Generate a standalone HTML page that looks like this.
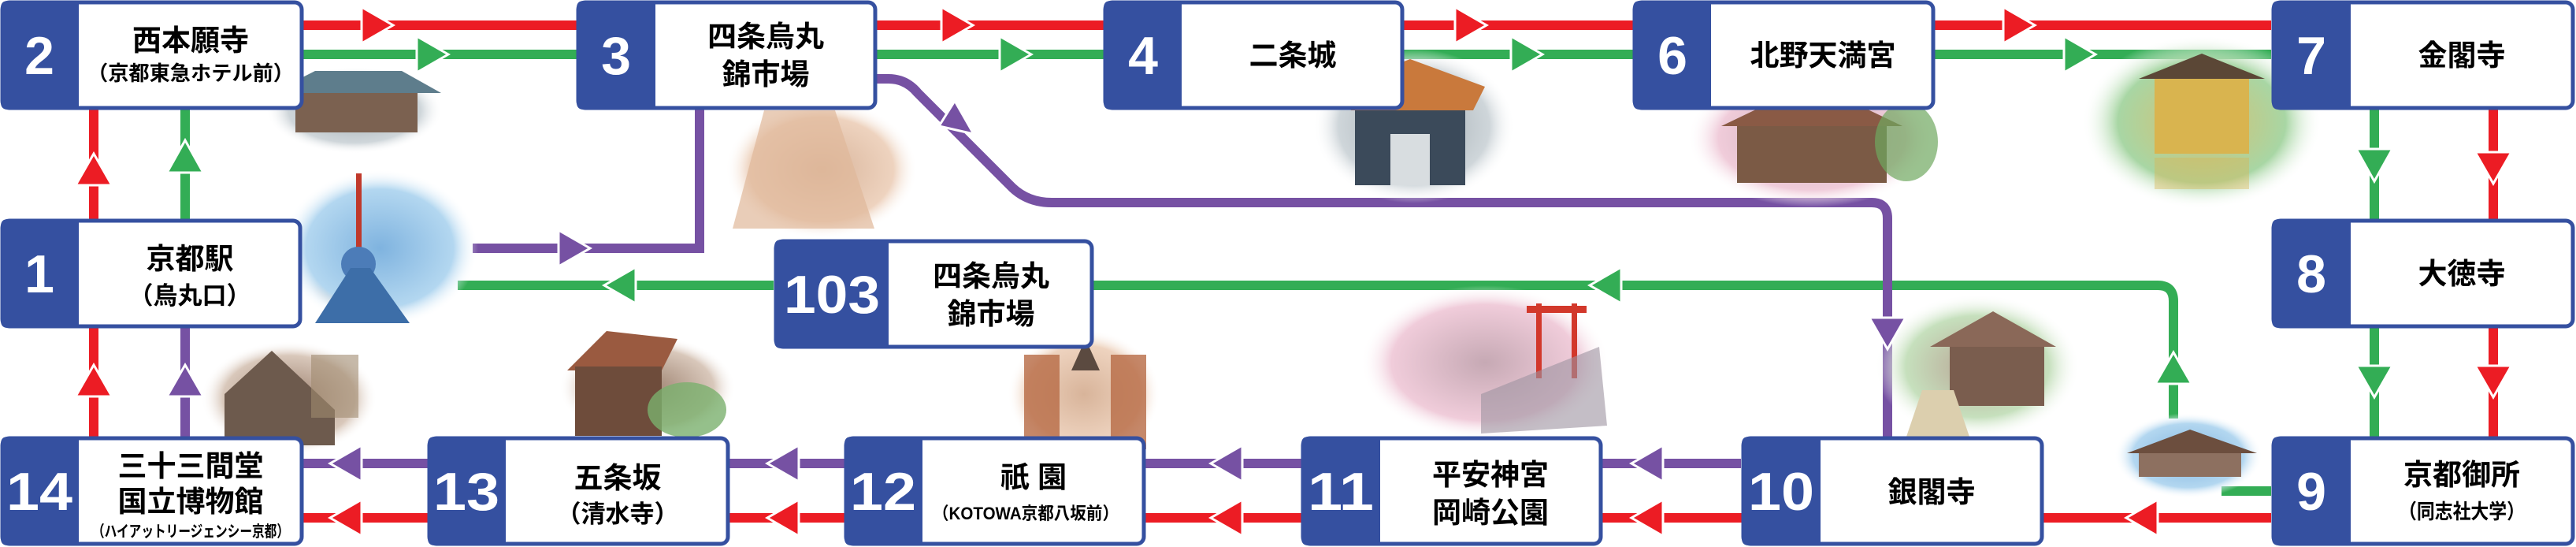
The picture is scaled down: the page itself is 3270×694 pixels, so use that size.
<!DOCTYPE html>
<html><head><meta charset="utf-8">
<style>
html,body{margin:0;padding:0;background:#fff;}
svg{display:block;}
text{font-family:"Liberation Sans","Noto Sans CJK JP",sans-serif;font-weight:bold;}
.num{fill:#fff;font-size:68px;text-anchor:middle;}
.t{fill:#000;font-size:37px;text-anchor:middle;}
.s{fill:#000;font-size:26px;text-anchor:middle;}
</style></head><body>
<svg width="3270" height="694" viewBox="0 0 3270 694" xmlns="http://www.w3.org/2000/svg">
<defs>
<radialGradient id="gBlue" cx="50%" cy="50%" r="50%"><stop offset="0" stop-color="#7fb3df"/><stop offset="0.75" stop-color="#b3d7f0"/><stop offset="1" stop-color="#fff" stop-opacity="0"/></radialGradient>
<radialGradient id="gWarm" cx="50%" cy="50%" r="50%"><stop offset="0" stop-color="#d8b49a"/><stop offset="0.75" stop-color="#eed3bf"/><stop offset="1" stop-color="#fff" stop-opacity="0"/></radialGradient>
<radialGradient id="gBrown" cx="50%" cy="50%" r="50%"><stop offset="0" stop-color="#9d8270"/><stop offset="0.75" stop-color="#d9c8bb"/><stop offset="1" stop-color="#fff" stop-opacity="0"/></radialGradient>
<radialGradient id="gPink" cx="50%" cy="50%" r="50%"><stop offset="0" stop-color="#c6a9b4"/><stop offset="0.75" stop-color="#f0ccda"/><stop offset="1" stop-color="#fff" stop-opacity="0"/></radialGradient>
<radialGradient id="gGold" cx="50%" cy="50%" r="50%"><stop offset="0" stop-color="#d7c070"/><stop offset="0.7" stop-color="#a8d6a4"/><stop offset="1" stop-color="#fff" stop-opacity="0"/></radialGradient>
<radialGradient id="gGreen" cx="50%" cy="50%" r="50%"><stop offset="0" stop-color="#b9a595"/><stop offset="0.7" stop-color="#c6e0bd"/><stop offset="1" stop-color="#fff" stop-opacity="0"/></radialGradient>
<radialGradient id="gGray" cx="50%" cy="50%" r="50%"><stop offset="0" stop-color="#a0aab0"/><stop offset="0.75" stop-color="#cfd6da"/><stop offset="1" stop-color="#fff" stop-opacity="0"/></radialGradient>
</defs>

<!-- LINES -->
<g fill="none" stroke-width="12">
<line x1="384" y1="32" x2="2883" y2="32" stroke="#ec1c24"/>
<line x1="384" y1="69" x2="2883" y2="69" stroke="#33ad55"/>
<line x1="119" y1="139" x2="119" y2="554" stroke="#ec1c24"/>
<line x1="235" y1="139" x2="235" y2="278" stroke="#33ad55"/>
<line x1="235" y1="416" x2="235" y2="554" stroke="#7651a3"/>
<path d="M600,315 H888 V139" stroke="#7651a3"/>
<path d="M581,362 H982 M1388,362 H2739 Q2759,362 2759,382 V531" stroke="#33ad55"/>
<line x1="2820" y1="623" x2="2883" y2="623" stroke="#33ad55"/>
<path d="M1113,100 H1128 Q1150,100 1165,118 L1285,238 Q1305,257 1335,257 H2376 Q2396,257 2396,277 V554" stroke="#7651a3"/>
<line x1="3014" y1="139" x2="3014" y2="554" stroke="#33ad55"/>
<line x1="3165" y1="139" x2="3165" y2="554" stroke="#ec1c24"/>
<line x1="384" y1="588" x2="2210" y2="588" stroke="#7651a3"/>
<line x1="384" y1="657" x2="2883" y2="657" stroke="#ec1c24"/>
</g>

<!-- ILLUSTRATIONS (approximate) -->
<ellipse cx="450" cy="140" rx="112" ry="55" fill="url(#gGray)"/>
<polygon points="345,118 400,90 510,90 560,118" fill="#5e7d8c"/>
<rect x="375" y="118" width="155" height="50" fill="#7b6150"/>
<ellipse cx="470" cy="360" rx="80" ry="40" fill="url(#gWarm)"/>
<ellipse cx="482" cy="315" rx="125" ry="100" fill="url(#gBlue)"/>
<rect x="452" y="220" width="7" height="110" fill="#c0392b"/>
<ellipse cx="455" cy="335" rx="22" ry="22" fill="#4c7cb8"/>
<polygon points="400,410 445,340 470,340 520,410" fill="#3d6ea8"/>
<ellipse cx="1043" cy="215" rx="122" ry="88" fill="url(#gWarm)"/>
<polygon points="970,140 1060,140 1110,290 930,290" fill="#e0b89a" opacity="0.7"/>
<ellipse cx="367" cy="505" rx="112" ry="72" fill="url(#gBrown)"/>
<polygon points="285,500 345,445 425,520 425,565 285,565" fill="#6d5a4d"/>
<rect x="395" y="450" width="60" height="80" fill="#a08a70" opacity="0.6"/>
<ellipse cx="822" cy="492" rx="112" ry="66" fill="url(#gBrown)"/>
<polygon points="720,470 770,420 860,430 840,470" fill="#9a5a40"/>
<rect x="730" y="465" width="110" height="88" fill="#6e4c3b"/>
<ellipse cx="872" cy="520" rx="50" ry="35" fill="#7ab06e" opacity="0.8"/>
<ellipse cx="1795" cy="160" rx="128" ry="98" fill="url(#gGray)"/>
<polygon points="1700,110 1790,75 1885,110 1870,140 1715,140" fill="#c9793c"/>
<rect x="1720" y="140" width="140" height="95" fill="#3b4a5a"/>
<rect x="1765" y="170" width="50" height="65" fill="#d8dde0"/>
<ellipse cx="1376" cy="500" rx="97" ry="82" fill="url(#gWarm)"/>
<rect x="1300" y="450" width="45" height="120" fill="#b66a45" opacity="0.8"/>
<rect x="1410" y="450" width="45" height="120" fill="#b66a45" opacity="0.8"/>
<polygon points="1378,430 1360,470 1396,470" fill="#5b4a40"/>
<ellipse cx="1885" cy="460" rx="158" ry="98" fill="url(#gPink)"/>
<rect x="1950" y="385" width="7" height="95" fill="#d2382b"/><rect x="1995" y="385" width="7" height="95" fill="#d2382b"/><rect x="1938" y="388" width="76" height="9" fill="#d2382b"/>
<polygon points="1880,500 2030,440 2040,540 1880,550" fill="#9d92a0" opacity="0.6"/>
<ellipse cx="2300" cy="175" rx="158" ry="88" fill="url(#gPink)"/>
<polygon points="2185,160 2300,105 2415,160" fill="#8a5a45"/>
<rect x="2205" y="160" width="190" height="72" fill="#7b5a45"/>
<ellipse cx="2420" cy="180" rx="40" ry="50" fill="#6fa860" opacity="0.7"/>
<ellipse cx="2795" cy="155" rx="152" ry="110" fill="url(#gGold)"/>
<rect x="2735" y="95" width="120" height="100" fill="#d9b44f"/>
<polygon points="2715,100 2795,68 2875,100" fill="#5b4736"/>
<rect x="2735" y="200" width="120" height="40" fill="#d9b44f" opacity="0.4"/>
<ellipse cx="2510" cy="465" rx="130" ry="92" fill="url(#gGreen)"/>
<polygon points="2450,440 2530,395 2610,440" fill="#8a6858"/>
<rect x="2475" y="440" width="120" height="75" fill="#7a5d4e"/>
<polygon points="2420,554 2440,495 2480,495 2500,554" fill="#dccfae"/>
<ellipse cx="2778" cy="578" rx="94" ry="54" fill="url(#gBlue)"/>
<polygon points="2700,575 2780,545 2865,575" fill="#6c4e3e"/>
<rect x="2715" y="575" width="130" height="30" fill="#8d7060"/>

<!-- ARROWS -->
<g stroke="#fff" stroke-width="3">
<g fill="#ec1c24">
<polygon points="459,9 499,32 459,55"/><polygon points="1195,9 1235,32 1195,55"/><polygon points="1847,9 1887,32 1847,55"/><polygon points="2543,9 2583,32 2543,55"/>
</g>
<g fill="#33ad55">
<polygon points="529,46 569,69 529,92"/><polygon points="1269,46 1309,69 1269,92"/><polygon points="1918,46 1958,69 1918,92"/><polygon points="2620,46 2660,69 2620,92"/>
</g>
<polygon fill="#7651a3" points="709,292 749,315 709,338"/>
<polygon fill="#ec1c24" points="96,235 119,195 142,235"/>
<polygon fill="#ec1c24" points="96,503 119,463 142,503"/>
<polygon fill="#33ad55" points="212,219 235,178 258,219"/>
<polygon fill="#7651a3" points="212,503 235,463 258,503"/>
<polygon fill="#33ad55" points="2736,487 2759,447 2782,487"/>
<polygon fill="#33ad55" points="2991,189 3037,189 3014,230"/>
<polygon fill="#ec1c24" points="3142,193 3188,193 3165,233"/>
<polygon fill="#33ad55" points="2991,464 3037,464 3014,504"/>
<polygon fill="#ec1c24" points="3142,464 3188,464 3165,504"/>
<polygon fill="#7651a3" points="2373,403 2419,403 2396,443"/>
<polygon fill="#7651a3" points="1212,128 1236,170 1192,160"/>
<polygon fill="#33ad55" points="807,339 767,362 807,385"/>
<polygon fill="#33ad55" points="2058,339 2018,362 2058,385"/>
<g fill="#7651a3">
<polygon points="459,565 419,588 459,611"/><polygon points="1014,565 974,588 1014,611"/><polygon points="1577,565 1537,588 1577,611"/><polygon points="2111,565 2071,588 2111,611"/>
</g>
<g fill="#ec1c24">
<polygon points="459,634 419,657 459,680"/><polygon points="1014,634 974,657 1014,680"/><polygon points="1577,634 1537,657 1577,680"/><polygon points="2111,634 2071,657 2111,680"/><polygon points="2739,634 2699,657 2739,680"/>
</g>
</g>

<!-- BOXES -->
<g stroke="#3550a0" stroke-width="5" fill="#fff">
<rect x="3" y="3" width="380" height="134" rx="9"/>
<rect x="734" y="3" width="377" height="134" rx="9"/>
<rect x="1403" y="3" width="377" height="134" rx="9"/>
<rect x="2075" y="3" width="379" height="134" rx="9"/>
<rect x="2886" y="3" width="380" height="134" rx="9"/>
<rect x="3" y="280" width="378" height="134" rx="9"/>
<rect x="985" y="306" width="401" height="134" rx="9"/>
<rect x="2886" y="280" width="380" height="134" rx="9"/>
<rect x="3" y="556" width="380" height="134" rx="9"/>
<rect x="545" y="556" width="379" height="134" rx="9"/>
<rect x="1074" y="556" width="378" height="134" rx="9"/>
<rect x="1654" y="556" width="378" height="134" rx="9"/>
<rect x="2213" y="556" width="379" height="134" rx="9"/>
<rect x="2886" y="556" width="380" height="134" rx="9"/>
</g>
<g fill="#3550a0">
<path d="M10,1 H100 V139 H10 Q1,139 1,130 V10 Q1,1 10,1Z"/>
<path d="M741,1 H832 V139 H741 Q732,139 732,130 V10 Q732,1 741,1Z"/>
<path d="M1410,1 H1500 V139 H1410 Q1401,139 1401,130 V10 Q1401,1 1410,1Z"/>
<path d="M2082,1 H2172 V139 H2082 Q2073,139 2073,130 V10 Q2073,1 2082,1Z"/>
<path d="M2893,1 H2984 V139 H2893 Q2884,139 2884,130 V10 Q2884,1 2893,1Z"/>
<path d="M10,278 H100 V416 H10 Q1,416 1,407 V287 Q1,278 10,278Z"/>
<path d="M992,304 H1128 V442 H992 Q983,442 983,433 V313 Q983,304 992,304Z"/>
<path d="M2893,278 H2984 V416 H2893 Q2884,416 2884,407 V287 Q2884,278 2893,278Z"/>
<path d="M10,554 H100 V692 H10 Q1,692 1,683 V563 Q1,554 10,554Z"/>
<path d="M552,554 H642 V692 H552 Q543,692 543,683 V563 Q543,554 552,554Z"/>
<path d="M1081,554 H1171 V692 H1081 Q1072,692 1072,683 V563 Q1072,554 1081,554Z"/>
<path d="M1661,554 H1752 V692 H1661 Q1652,692 1652,683 V563 Q1652,554 1661,554Z"/>
<path d="M2220,554 H2311 V692 H2220 Q2211,692 2211,683 V563 Q2211,554 2220,554Z"/>
<path d="M2893,554 H2984 V692 H2893 Q2884,692 2884,683 V563 Q2884,554 2893,554Z"/>
</g>

<!-- NUMBERS -->
<text class="num" x="50" y="94">2</text>
<text class="num" x="782" y="94">3</text>
<text class="num" x="1451" y="94">4</text>
<text class="num" x="2123" y="94">6</text>
<text class="num" x="2934" y="94">7</text>
<text class="num" x="50" y="371">1</text>
<text class="num" x="2934" y="371">8</text>
<text class="num" x="2934" y="647">9</text>
<text class="num" x="1056" y="397" textLength="122" lengthAdjust="spacingAndGlyphs">103</text>
<text class="num" x="50" y="647" textLength="84" lengthAdjust="spacingAndGlyphs">14</text>
<text class="num" x="592" y="647" textLength="84" lengthAdjust="spacingAndGlyphs">13</text>
<text class="num" x="1121" y="647" textLength="84" lengthAdjust="spacingAndGlyphs">12</text>
<text class="num" x="1702" y="647" textLength="84" lengthAdjust="spacingAndGlyphs">11</text>
<text class="num" x="2261" y="647" textLength="84" lengthAdjust="spacingAndGlyphs">10</text>

<!-- LABELS -->
<text class="t" x="242" y="64">西本願寺</text>
<text class="s" x="242" y="102" textLength="262" lengthAdjust="spacingAndGlyphs">（京都東急ホテル前）</text>
<text class="t" x="972" y="59">四条烏丸</text>
<text class="t" x="972" y="107">錦市場</text>
<text class="t" x="1641" y="83">二条城</text>
<text class="t" x="2314" y="83">北野天満宮</text>
<text class="t" x="3125" y="83">金閣寺</text>
<text class="t" x="241" y="341">京都駅</text>
<text class="t" x="241" y="386" style="font-size:31px">（烏丸口）</text>
<text class="t" x="1258" y="363">四条烏丸</text>
<text class="t" x="1258" y="411">錦市場</text>
<text class="t" x="3125" y="360">大徳寺</text>
<text class="t" x="242" y="604">三十三間堂</text>
<text class="t" x="242" y="649">国立博物館</text>
<text class="s" x="242" y="681" style="font-size:20px" textLength="250" lengthAdjust="spacingAndGlyphs">（ハイアットリージェンシー京都）</text>
<text class="t" x="784" y="619">五条坂</text>
<text class="t" x="784" y="663" style="font-size:31px">（清水寺）</text>
<text class="t" x="1312" y="618">祇 園</text>
<text class="s" x="1302" y="659" style="font-size:22px" textLength="236" lengthAdjust="spacingAndGlyphs">（KOTOWA京都八坂前）</text>
<text class="t" x="1892" y="615">平安神宮</text>
<text class="t" x="1892" y="663">岡崎公園</text>
<text class="t" x="2452" y="637">銀閣寺</text>
<text class="t" x="3125" y="615">京都御所</text>
<text class="s" x="3125" y="658" textLength="160" lengthAdjust="spacingAndGlyphs">（同志社大学）</text>
</svg>
</body></html>
